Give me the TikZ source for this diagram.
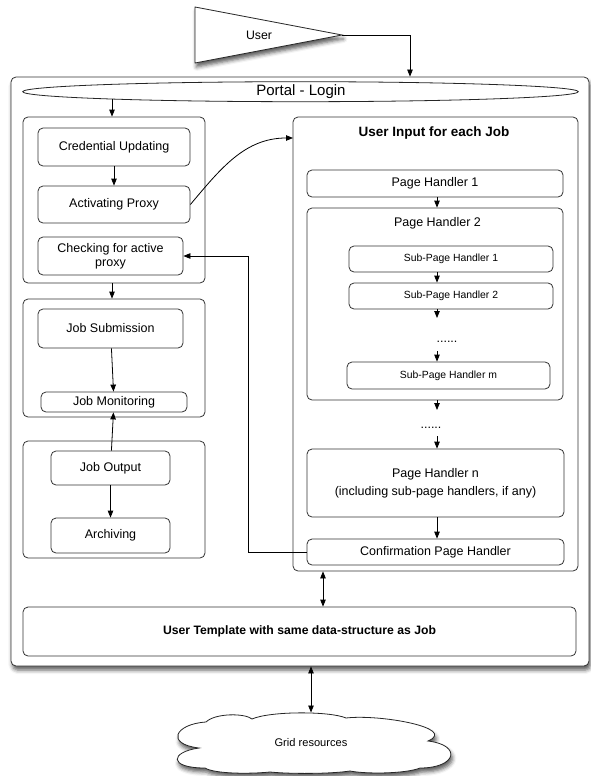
\documentclass[tikz,border=0pt]{standalone}
\usepackage{fontspec}
\setmainfont{Liberation Sans}
\usetikzlibrary{arrows.meta,shapes.geometric,shadows.blur}
\begin{document}
\begin{tikzpicture}[x=1pt,y=-1pt,
  arr/.style={draw=black, line width=0.8pt, -{Triangle[length=7pt,width=5.5pt]}},
  darr/.style={draw=black, line width=0.8pt, {Triangle[length=7pt,width=5.5pt]}-{Triangle[length=7pt,width=5.5pt]}},
  box/.style={draw=black!80, line width=0.8pt, rounded corners=5pt, fill=white, inner sep=0pt, align=center, font=\fontsize{12.5}{13.7}\selectfont},
  sub/.style={box, font=\fontsize{10.4}{12}\selectfont},
  txt/.style={inner sep=0pt, align=center, font=\fontsize{12.5}{14}\selectfont},
  shadowed/.style={blur shadow={shadow xshift=1.5pt, shadow yshift=-4pt, shadow blur radius=4pt, shadow opacity=65}},
]
\useasboundingbox (0,0) rectangle (590,776);

% user
\path[draw=black!85, line width=0.8pt, fill=white, shadowed] (195,7) -- (342,35) -- (195,63) -- cycle;
\coordinate (usertip) at (342,35);
\node[txt, font=\fontsize{12.3}{14}\selectfont] (user) at (259,35) {User};

% outer portal
\node[box, shadowed, minimum width=578pt, minimum height=589pt] (outer) at (300,371.5) {};
\node[draw=black!85, line width=0.8pt, ellipse, fill=white, minimum width=555.6pt, minimum height=20pt, inner sep=0pt] (portal) at (300.5,91.7) {};
\node[txt, font=\fontsize{15}{17}\selectfont] (portaltxt) at (301,91.2) {Portal - Login};

% left groups
\node[box, minimum width=182pt, minimum height=166pt] (g1) at (114,200) {};
\node[box, minimum width=152pt, minimum height=38pt] (cred) at (114,147) {Credential Updating};
\node[box, minimum width=152pt, minimum height=37pt] (act) at (114,204.5) {Activating Proxy};
\node[box, minimum width=145pt, minimum height=38pt] (check) at (110.5,256) {Checking for active\\proxy};

\node[box, minimum width=182pt, minimum height=118pt] (g2) at (114,358) {};
\node[box, minimum width=145pt, minimum height=39pt] (jsub) at (110.5,328.5) {Job Submission};
\node[box, minimum width=146pt, minimum height=20pt] (jmon) at (114,402) {Job Monitoring};

\node[box, minimum width=182pt, minimum height=117pt] (g3) at (114,499.5) {};
\node[box, minimum width=119pt, minimum height=34pt] (jout) at (110.5,468) {Job Output};
\node[box, minimum width=119pt, minimum height=35pt] (arch) at (110.5,535.5) {Archiving};

% right column
\node[box, minimum width=285pt, minimum height=454pt] (uinput) at (435.5,344) {};
\node[txt, font=\bfseries\fontsize{13.5}{15}\selectfont] (uititle) at (434,133) {User Input for each Job};
\node[box, minimum width=256pt, minimum height=27pt] (ph1) at (435,183.5) {Page Handler 1};
\node[box, minimum width=256pt, minimum height=192pt] (ph2) at (435,304) {};
\node[txt] (ph2title) at (437.5,223) {Page Handler 2};
\node[sub, minimum width=204pt, minimum height=26pt] (sp1) at (451,259) {Sub-Page Handler 1};
\node[sub, minimum width=204pt, minimum height=26pt] (sp2) at (451,296) {Sub-Page Handler 2};
\node[txt, anchor=base] (dots1) at (447,342.5) {......};
\node[sub, minimum width=203pt, minimum height=27pt] (spm) at (448.5,375.5) {Sub-Page Handler m};
\node[txt, anchor=base] (dots2) at (431,428.5) {......};
\node[box, minimum width=257pt, minimum height=68pt, font=\fontsize{12.5}{18.3}\selectfont] (phn) at (435.5,483) {Page Handler n\\(including sub-page handlers, if any)};
\node[box, minimum width=257pt, minimum height=26pt] (conf) at (435.5,552) {Confirmation Page Handler};

% template
\node[box, minimum width=553pt, minimum height=49pt, font=\bfseries\fontsize{12.2}{14}\selectfont] (template) at (299.5,631.5) {User Template with same data-structure as Job};

% cloud
\path[draw=black!85, line width=0.8pt, fill=white, shadowed]
  (199,748) .. controls (165,744) and (175,724) .. (206,722)
  .. controls (215,713) and (245,713) .. (252,719)
  .. controls (270,711) and (330,711) .. (346,718)
  .. controls (380,714) and (458,728) .. (428,741)
  .. controls (462,745) and (457,768) .. (420,768)
  .. controls (405,774) and (365,774) .. (350,771)
  .. controls (330,774) and (290,774) .. (270,772)
  .. controls (250,774) and (215,774) .. (205,768)
  .. controls (168,768) and (170,752) .. (199,748) -- cycle;
\node[txt, font=\fontsize{11.1}{13}\selectfont] (cloud) at (311,743) {Grid resources};
\coordinate (cloudtop) at (311,712.5);

% helper coordinates
\coordinate (pa) at (112,99.3);
\coordinate (uiin) at (293,138);
\coordinate (bend) at (248,256);
\coordinate (rx) at (437,0);
\coordinate (d1top) at (437,318);
\coordinate (d1bot) at (437,351);
\coordinate (d2top) at (437,410);
\coordinate (d2bot) at (437,436);
\coordinate (ax1) at (323,0);
\coordinate (ax2) at (410,0);

% connectors
\draw[arr] (usertip) -| (outer.north -| ax2);
\draw[arr] (pa) -- (g1.north -| pa);
\draw[arr] (cred) -- (act);
\draw[arr] (g1.south -| pa) -- (g2.north -| pa);
\draw[arr] (jsub) -- (jmon);
\draw[arr] (jout) -- (jmon);
\draw[arr] (jout) -- (arch);
\draw[arr] (act.east) to[out=50,in=180] (uiin);
\draw[arr] (conf.west) -| (bend) -- (check.east);
\draw[arr] (ph1.south -| rx) -- (ph2.north -| rx);
\draw[arr] (sp1.south -| rx) -- (sp2.north -| rx);
\draw[arr] (sp2.south -| rx) -- (d1top);
\draw[arr] (d1bot) -- (spm.north -| rx);
\draw[arr] (ph2.south -| rx) -- (d2top);
\draw[arr] (d2bot) -- (phn.north -| rx);
\draw[arr] (phn.south -| rx) -- (conf.north -| rx);
\draw[darr] (uinput.south -| ax1) -- (template.north -| ax1);
\draw[darr] (outer.south -| cloudtop) -- (cloudtop);
\end{tikzpicture}
\end{document}
